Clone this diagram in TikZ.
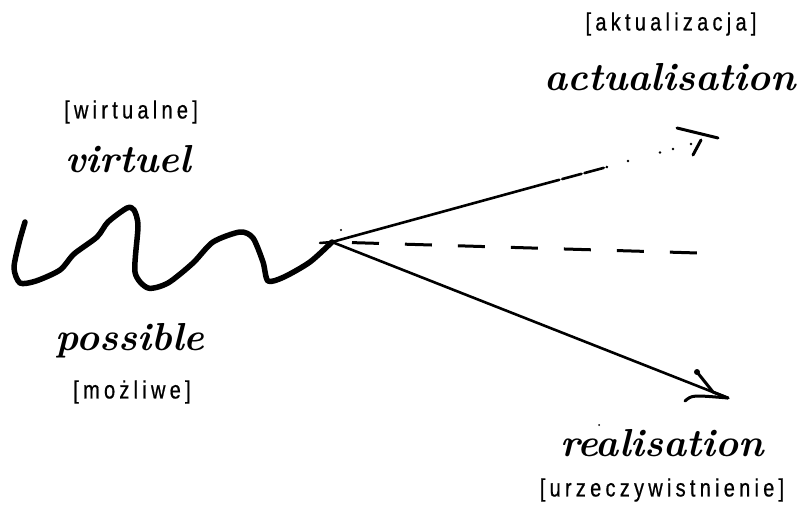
\documentclass[tikz,border=0pt]{standalone}
\usepackage{fontspec}
\newfontfamily\glossfont{Liberation Sans}[FakeStretch=0.8,LetterSpace=17,FakeBold=0.6]
\usetikzlibrary{calc}
\tikzset{
  gloss/.style={font=\glossfont\fontsize{25}{25}\selectfont, text=black, inner sep=0pt},
  hand/.style={font=\fontsize{39}{39}\selectfont\bfseries\itshape, inner sep=0pt},
  wave/.style={line width=5.5pt, line cap=round, line join=round},
  ray/.style={line width=2.6pt, line cap=round},
  tipstroke/.style={line width=3pt, line cap=round, line join=round},
}
\begin{document}
\begin{tikzpicture}[x=1pt,y=-1pt]
\useasboundingbox (0,0) rectangle (799,513);

% labels
\node[gloss] (aktG) at (671,24) {[aktualizacja]};
\node[hand]  (aktH) at (670,77) {actualisation};
\node[gloss] (wirG) at (131,112) {[wirtualne]};
\node[hand]  (wirH) at (128,159) {virtuel};
\node[hand]  (posH) at (130,341) {possible};
\node[gloss] (mozG) at (132,392) {[możliwe]};
\node[hand]  (reaH) at (662,443) {realisation};
\node[gloss] (urzG) at (662,490) {[urzeczywistnienie]};

% branching point and arrow ends
\coordinate (o)  at (332,242);
\coordinate (u1) at (540,185);
\coordinate (u2) at (607,167);
\coordinate (ua) at (701,140);
\coordinate (de) at (698,253);
\coordinate (la) at (728,398);

% the wavy line of the possible, ending at the branching point
\draw[wave] plot[smooth, tension=0.45] coordinates {
  (25,222) (19,243) (14,268) (20,283) (36,281) (60,270) (74,254)
  (97,237) (108,222) (127,208) (134,210) (138,226) (135,272)
  (148,288) (168,283) (193,263) (213,242) (240,232) (253,238)
  (263,262) (268,281) (284,277) (310,262) (332,242)};
\draw[line width=2.5pt, line cap=round] (320,243) -- (o);

% upper ray: solid, then broken, then fading into dots
\draw[ray] (o) -- (u1);
\draw[ray, dash pattern=on 20pt off 3pt] (u1) -- (u2);
\foreach \p in {(628,161),(660,152.5),(673,149),(691,144)}
  \fill \p circle (1.3pt);
\draw[tipstroke] (677,128) -- (718,138);
\draw[tipstroke] (ua) -- (693,155);

% horizontal dashed ray
\draw[line width=3pt, dash pattern=on 27pt off 26pt, dash phase=33pt] (o) -- (de);

% lower ray with its open head
\draw[ray] (o) -- (la);
\draw[tipstroke] (697,372) -- (713,392) -- (la);
\draw[tipstroke] (685,401) .. controls (692,395) .. (la);
\fill (697,372) circle (3pt);

% stray specks
\fill (341,230) circle (1.2pt);
\fill (599,425) circle (1pt);
\end{tikzpicture}
\end{document}
